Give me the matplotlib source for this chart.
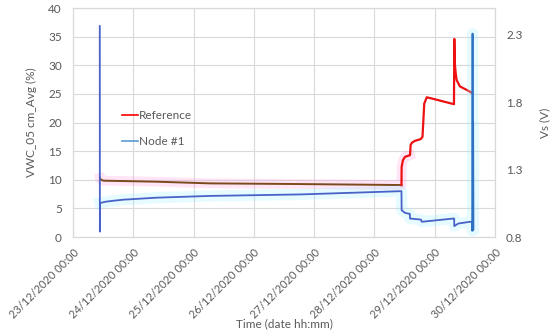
import numpy as np
import pandas as pd
import matplotlib
matplotlib.use("Agg")
import matplotlib.pyplot as plt
import matplotlib.dates as mdates
from matplotlib.lines import Line2D

# Reference (VWC %, eje izquierdo)
ref_time = ["2020-12-23 10:45", "2020-12-23 10:50", "2020-12-23 12:05", "2020-12-24 09:20",
            "2020-12-25 06:30", "2020-12-26 18:20", "2020-12-28 10:10", "2020-12-28 10:46",
            "2020-12-28 10:50", "2020-12-28 11:20", "2020-12-28 12:10", "2020-12-28 14:10",
            "2020-12-28 14:25", "2020-12-28 15:00", "2020-12-28 16:10", "2020-12-28 18:25",
            "2020-12-28 19:08", "2020-12-28 19:30", "2020-12-28 19:50", "2020-12-28 20:50",
            "2020-12-28 22:48", "2020-12-29 07:40", "2020-12-29 07:48", "2020-12-29 07:58",
            "2020-12-29 08:21", "2020-12-29 08:44", "2020-12-29 10:03", "2020-12-29 12:43",
            "2020-12-29 14:43"]
ref_vwc = [10.3, 10.1, 9.84, 9.66,
           9.37, 9.25, 9.08, 9.05,
           12.2, 13.4, 14.0, 14.3,
           16.1, 16.5, 16.8, 17.1,
           17.5, 20.5, 23.3, 24.4,
           24.2, 23.2, 34.6, 30.5,
           28.6, 27.4, 26.3, 25.7,
           25.2]
n_flat = 8   # puntos antes del salto (tramo oscuro)

# Node #1 (Vs en V, eje derecho)
node_time = ["2020-12-23 10:40", "2020-12-23 10:42", "2020-12-23 10:45", "2020-12-23 13:00",
             "2020-12-23 16:00", "2020-12-23 20:00", "2020-12-24 09:20", "2020-12-25 06:30",
             "2020-12-26 18:20", "2020-12-28 10:10", "2020-12-28 10:46", "2020-12-28 10:50",
             "2020-12-28 12:10", "2020-12-28 13:30", "2020-12-28 14:05", "2020-12-28 14:10",
             "2020-12-28 18:10", "2020-12-28 18:35", "2020-12-28 18:50", "2020-12-29 07:22",
             "2020-12-29 07:45", "2020-12-29 07:48", "2020-12-29 09:23", "2020-12-29 14:02",
             "2020-12-29 14:50", "2020-12-29 14:57", "2020-12-29 15:04", "2020-12-29 15:11",
             "2020-12-29 15:18", "2020-12-29 15:25"]
node_vs = [2.366, 0.84, 1.052, 1.062,
           1.069, 1.077, 1.092, 1.105,
           1.116, 1.140, 1.140, 0.999,
           0.979, 0.974, 0.972, 0.937,
           0.930, 0.928, 0.913, 0.937,
           0.937, 0.881, 0.900, 0.913,
           0.913, 0.846, 2.31, 0.85,
           1.65, 0.86]
n_blue = 25  # inicio del pico final

ref_t = pd.to_datetime(ref_time)
node_t = pd.to_datetime(node_time)

plt.rcParams['font.family'] = ['Lato', 'DejaVu Sans']
gris = '#595959'

fig = plt.figure(figsize=(5.5, 3.34), dpi=100)
ax = fig.add_axes([0.1327, 0.2904, 0.7673, 0.6856])
ax2 = ax.twinx()

# brillo suave detras de las lineas
ax.plot(ref_t[:n_flat + 4], ref_vwc[:n_flat + 4], color='#ff99dd', lw=7, alpha=0.25, zorder=1)
ax2.plot(node_t[2:], node_vs[2:], color='#99f0ff', lw=8, alpha=0.25, zorder=1)

ax.plot(ref_t[:n_flat], ref_vwc[:n_flat], color='#7a4a1c', lw=1.4, zorder=3)
ax.plot(ref_t[n_flat - 1:], ref_vwc[n_flat - 1:], color='#ee1111', lw=1.6, zorder=3)
ax2.plot(node_t[:n_blue], node_vs[:n_blue], color='#4a62c8', lw=1.3, zorder=3)
ax2.plot(node_t[n_blue - 1:], node_vs[n_blue - 1:], color='#2f72c4', lw=1.3, zorder=3)

ax.set_ylim(0, 40)
ax.set_yticks(np.arange(0, 41, 5))
ax2.set_ylim(0.8, 2.5)
ax2.set_yticks([0.8, 1.3, 1.8, 2.3])
ax2.set_yticklabels(["0.8", "1.3", "1.8", "2.3"])

ax.set_xlim(pd.Timestamp("2020-12-23"), pd.Timestamp("2020-12-30"))
ax.xaxis.set_major_locator(mdates.DayLocator())
ax.xaxis.set_major_formatter(mdates.DateFormatter('%d/%m/%Y %H:%M'))
for lab in ax.get_xticklabels():
    lab.set_rotation(45)
    lab.set_ha('right')
    lab.set_rotation_mode('anchor')

ax.grid(True, color='#d9d9d9', lw=0.8)
ax.set_axisbelow(True)
for a in (ax, ax2):
    for s in a.spines.values():
        s.set_color('#d9d9d9')
    a.tick_params(length=0, labelsize=8.5, colors=gris, pad=8)
ax.tick_params(axis='x', labelsize=8, pad=7)

ax.set_ylabel("VWC_05 cm_Avg (%)", fontsize=8.5, color=gris, labelpad=8)
ax2.set_ylabel("Vs (V)", fontsize=8.5, color=gris, labelpad=12)
ax.set_xlabel("Time (date hh:mm)", fontsize=8.5, color=gris, va='center')
ax.xaxis.set_label_coords(0.5, -0.38)

handles = [Line2D([], [], color='#ff0000', lw=1.2), Line2D([], [], color='#5b9bd5', lw=1.2)]
leg = ax.legend(handles, ["Reference", "Node #1"], loc='upper left', bbox_to_anchor=(0.09, 0.6),
                frameon=False, fontsize=8.5, labelspacing=1.25, handlelength=1.4, handletextpad=0.1)
for t in leg.get_texts():
    t.set_color(gris)

fig.savefig("out.png", dpi=100)
